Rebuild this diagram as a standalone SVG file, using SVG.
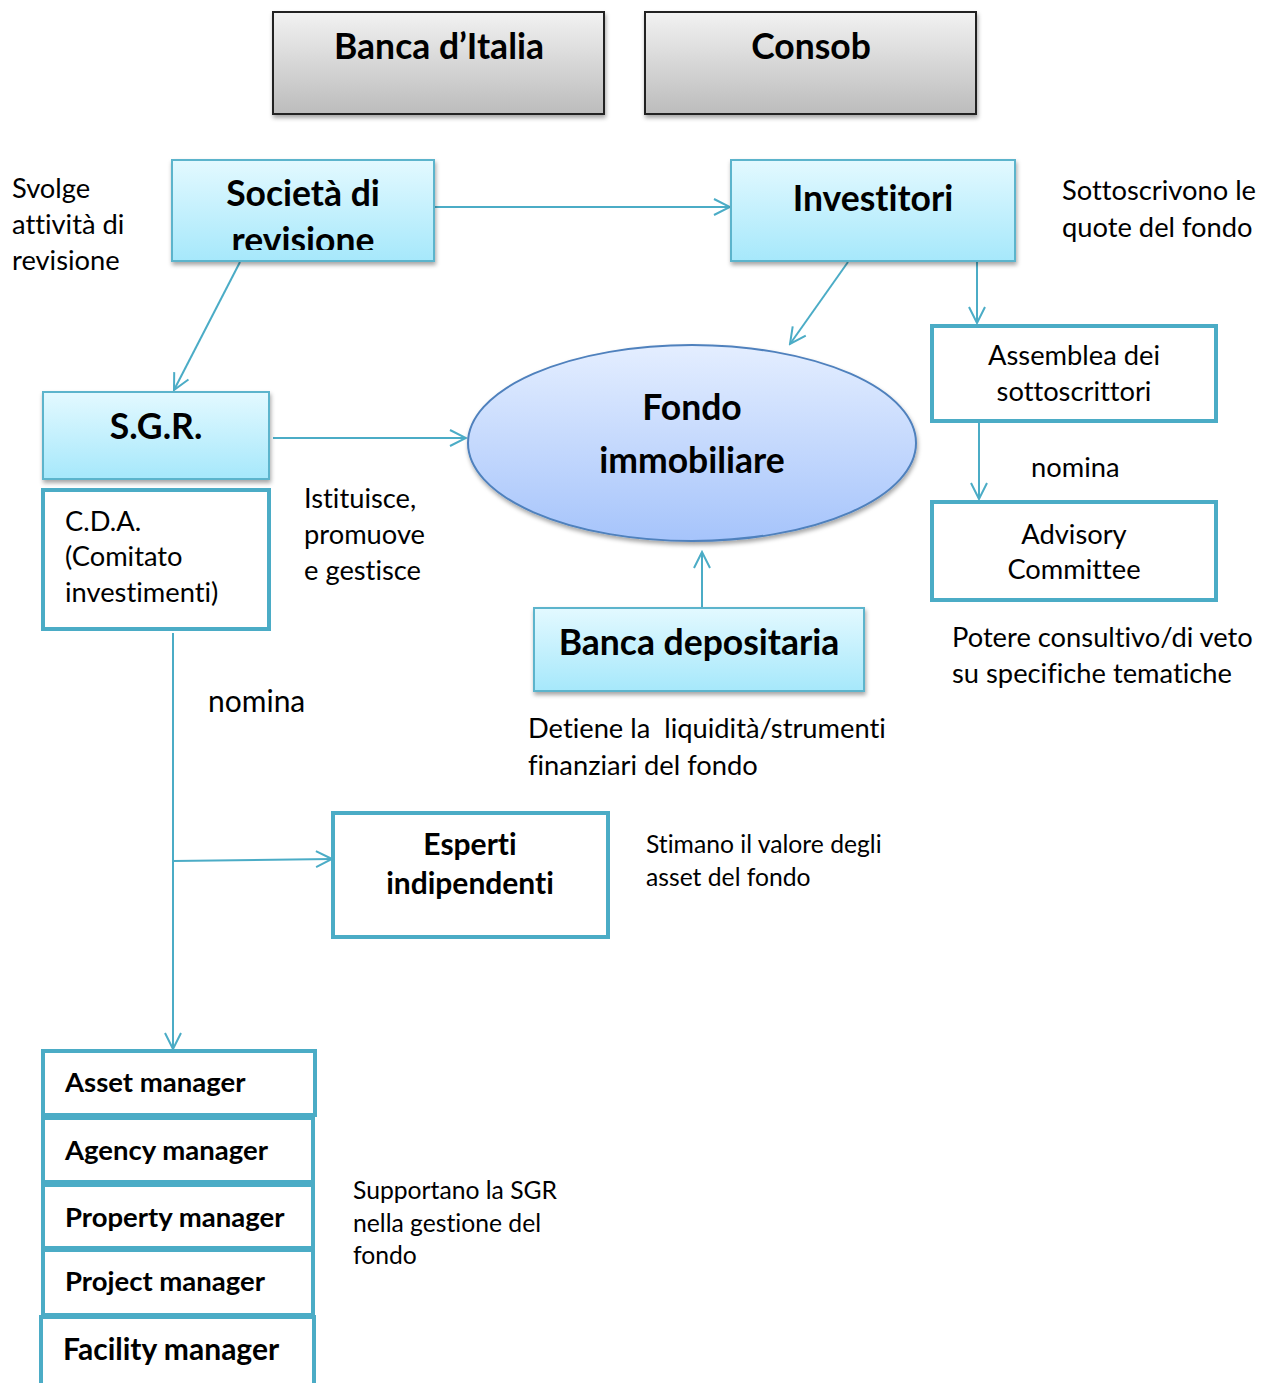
<svg xmlns="http://www.w3.org/2000/svg" width="1272" height="1383" viewBox="0 0 1272 1383">
<style>
text{font-family:Lato,"Open Sans","Liberation Sans",sans-serif;fill:#000;font-variant-ligatures:none;font-feature-settings:"liga" 0,"dlig" 0}
.big{font-size:35.5px;font-weight:bold}
.mid{font-size:27.5px;font-weight:bold}
.t{font-size:27.3px}
.s{font-size:24.7px}
.c{text-anchor:middle}
.cy{fill:url(#gc);stroke:#5bb4cc;stroke-width:2}
.gr{fill:url(#gg);stroke:#222;stroke-width:2}
.th{fill:#fff;stroke:#4bacc6;stroke-width:4}
.con line,.con path{stroke:#4bacc6;stroke-width:2;fill:none}
</style>
<defs>
<linearGradient id="gc" x1="0" y1="0" x2="0" y2="1"><stop offset="0" stop-color="#e3f9ff"/><stop offset="1" stop-color="#a6e8fb"/></linearGradient>
<linearGradient id="gg" x1="0" y1="0" x2="0" y2="1"><stop offset="0" stop-color="#f2f2f2"/><stop offset="1" stop-color="#bcbcbc"/></linearGradient>
<linearGradient id="ge" x1="0" y1="0" x2="0" y2="1"><stop offset="0" stop-color="#e4eeff"/><stop offset="1" stop-color="#a6c4fb"/></linearGradient>
<filter id="sh" x="-10%" y="-10%" width="120%" height="130%"><feDropShadow dx="1" dy="3" stdDeviation="2" flood-color="#000" flood-opacity="0.35"/></filter>
<marker id="ar" viewBox="0 0 20 20" refX="18" refY="10" markerWidth="20" markerHeight="20" markerUnits="userSpaceOnUse" orient="auto"><path d="M2,2 L18,10 L2,18" fill="none" stroke="#4bacc6" stroke-width="2"/></marker>
<clipPath id="cs"><rect x="172" y="160" width="262" height="90"/></clipPath>
</defs>

<g id="connectors" class="con">
<line x1="434" y1="207" x2="730" y2="207" marker-end="url(#ar)"/>
<line x1="240" y1="262" x2="174" y2="390" marker-end="url(#ar)"/>
<line x1="848" y1="262" x2="790" y2="344" marker-end="url(#ar)"/>
<line x1="977" y1="262" x2="977" y2="323" marker-end="url(#ar)"/>
<line x1="273" y1="438" x2="466" y2="438" marker-end="url(#ar)"/>
<line x1="979" y1="423" x2="979" y2="499" marker-end="url(#ar)"/>
<line x1="702" y1="607" x2="702" y2="552" marker-end="url(#ar)"/>
<line x1="173" y1="633" x2="173" y2="1049" marker-end="url(#ar)"/>
<line x1="173" y1="861" x2="332" y2="859" marker-end="url(#ar)"/>
</g>

<g id="banca-italia"><rect class="gr" x="273" y="12" width="331" height="102" filter="url(#sh)"/><text class="big c" x="439" y="59">Banca d’Italia</text></g>
<g id="consob"><rect class="gr" x="645" y="12" width="331" height="102" filter="url(#sh)"/><text class="big c" x="811" y="59">Consob</text></g>

<g id="societa"><rect class="cy" x="172" y="160" width="262" height="101" filter="url(#sh)"/><g clip-path="url(#cs)"><text class="big c" x="303" y="206">Società di</text><text class="big c" x="303" y="253">revisione</text></g></g>
<g id="investitori"><rect class="cy" x="731" y="160" width="284" height="101" filter="url(#sh)"/><text class="big c" x="873" y="211">Investitori</text></g>

<g id="fondo"><ellipse cx="692" cy="443" rx="224" ry="98" fill="url(#ge)" stroke="#4f81bd" stroke-width="2" filter="url(#sh)"/><text class="big c" x="692" y="420">Fondo</text><text class="big c" x="692" y="473">immobiliare</text></g>

<g id="sgr"><rect class="cy" x="43" y="392" width="226" height="87" filter="url(#sh)"/><text class="big c" x="156" y="439">S.G.R.</text></g>
<g id="cda"><rect class="th" x="43" y="490" width="226" height="139"/><text class="t" x="65" y="531">C.D.A.</text><text class="t" x="65" y="566">(Comitato</text><text class="t" x="65" y="602">investimenti)</text></g>

<g id="assemblea"><rect class="th" x="932" y="326" width="284" height="95"/><text class="t c" x="1074" y="365">Assemblea dei</text><text class="t c" x="1074" y="401">sottoscrittori</text></g>
<g id="advisory"><rect class="th" x="932" y="502" width="284" height="98"/><text class="t c" x="1074" y="544">Advisory</text><text class="t c" x="1074" y="579">Committee</text></g>

<g id="depositaria"><rect class="cy" x="534" y="608" width="330" height="83" filter="url(#sh)"/><text class="big c" x="699" y="655">Banca depositaria</text></g>

<g id="esperti"><rect class="th" x="333" y="813" width="275" height="124"/><text class="mid c" x="470" y="855" style="font-size:30px">Esperti</text><text class="mid c" x="470" y="894" style="font-size:30px">indipendenti</text></g>

<g id="asset"><rect class="th" x="43" y="1051" width="272" height="64"/><text class="mid" x="65" y="1092">Asset manager</text></g>
<g id="agency"><rect class="th" x="43" y="1118" width="270" height="64"/><text class="mid" x="65" y="1160">Agency manager</text></g>
<g id="property"><rect class="th" x="43" y="1185" width="270" height="63"/><text class="mid" x="65" y="1227">Property manager</text></g>
<g id="project"><rect class="th" x="43" y="1250" width="270" height="65"/><text class="mid" x="65" y="1291">Project manager</text></g>
<g id="facility"><rect class="th" x="41" y="1317" width="273" height="80"/><text class="mid" x="63" y="1360" style="font-size:30px">Facility manager</text></g>

<g id="labels">
<text class="t" x="12" y="198">Svolge</text><text class="t" x="12" y="234">attività di</text><text class="t" x="12" y="270">revisione</text>
<text class="t" x="1062" y="200">Sottoscrivono le</text><text class="t" x="1062" y="237">quote del fondo</text>
<text class="t" x="304" y="508">Istituisce,</text><text class="t" x="304" y="544">promuove</text><text class="t" x="304" y="580">e gestisce</text>
<text class="t" x="1031" y="477">nomina</text>
<text class="t" x="952" y="647">Potere consultivo/di veto</text><text class="t" x="952" y="683">su specifiche tematiche</text>
<text class="t" x="208" y="712" style="font-size:30px">nomina</text>
<text class="t" x="528" y="738" xml:space="preserve">Detiene la  liquidità/strumenti</text><text class="t" x="528" y="775">finanziari del fondo</text>
<text class="s" x="646" y="853">Stimano il valore degli</text><text class="s" x="646" y="886">asset del fondo</text>
<text class="s" x="353" y="1199">Supportano la SGR</text><text class="s" x="353" y="1232">nella gestione del</text><text class="s" x="353" y="1264">fondo</text>
</g>
</svg>
